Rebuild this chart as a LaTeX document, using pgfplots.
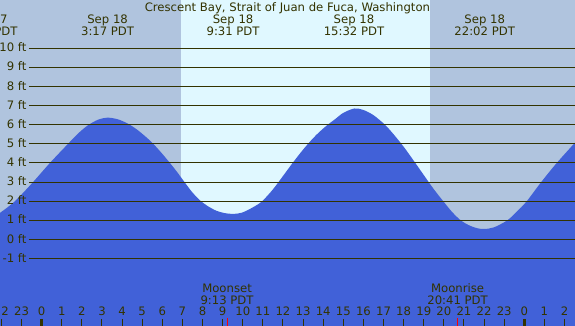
\documentclass[border=0pt]{standalone}
\usepackage{fontspec}
\setmainfont{DejaVu Sans}
\usepackage{pgfplots}
\pgfplotsset{compat=1.18}
\definecolor{night}{RGB}{176,196,222}
\definecolor{day}{RGB}{224,248,255}
\definecolor{tide}{RGB}{65,97,216}
\definecolor{ln}{RGB}{51,51,0}
\begin{document}
\begin{tikzpicture}[every node/.style={font=\fontsize{11.7}{12}\selectfont, text=ln, inner sep=0pt}]
\begin{axis}[name=ax, scale only axis, width=575bp, height=326bp,
  xmin=-2.07, xmax=26.52, ymin=-4.52, ymax=12.52, axis lines=none, clip=true]
\fill[night] (axis cs:-3,-5) rectangle (axis cs:27,13);
\fill[day] (axis cs:6.927,-5) rectangle (axis cs:19.31,13);
\addplot[draw=none, fill=tide, smooth] coordinates {
(-2.2,1.28) (-2.07,1.39) (-1.33,2.0) (-0.43,3.0) (0.41,4.0) (1.31,5.0) (1.8,5.53)
(2.3,5.97) (2.8,6.26) (3.28,6.37) (3.8,6.28) (4.3,6.05) (4.8,5.7) (5.4,5.16)
(5.9,4.6) (6.38,4.0) (6.72,3.55) (7.05,3.08) (7.45,2.52) (7.87,2.05) (8.3,1.72)
(8.7,1.5) (9.1,1.38) (9.52,1.34) (9.95,1.4) (10.5,1.68) (10.96,2.0) (11.5,2.62)
(12.0,3.32) (12.5,4.03) (13.0,4.7) (13.5,5.3) (13.85,5.66) (14.2,5.98) (14.6,6.3)
(15.0,6.62) (15.55,6.85) (16.0,6.77) (16.5,6.5) (17.07,6.0) (17.5,5.5) (18.0,4.85)
(18.5,4.12) (19.0,3.37) (19.5,2.63) (19.97,2.0) (20.4,1.45) (20.84,1.0) (21.3,0.72)
(21.7,0.58) (22.03,0.55) (22.5,0.64) (23.15,1.0) (23.6,1.43) (24.12,2.0) (24.8,2.95)
(25.57,3.95) (26.42,4.95) (26.6,5.17)
} |- (axis cs:-2.2,-5) -- cycle;
\pgfplotsinvokeforeach{-1,...,10}{
  \draw[ln, line width=1bp] (axis cs:-0.63,#1) -- (axis cs:27,#1);
  \node[anchor=base east] at (axis cs:-0.746,#1) [yshift=-3.6bp] {#1 ft};
}
% top labels
\node[anchor=base] at (axis cs:12.22,11.91) {Crescent Bay, Strait of Juan de Fuca, Washington};
\node[anchor=base] at (axis cs:-2.70,11.27) {Sep 17};
\node[anchor=base] at (axis cs:-2.70,10.64) {21:18 PDT};
\node[anchor=base] at (axis cs:3.28,11.27) {Sep 18};
\node[anchor=base] at (axis cs:3.28,10.64) {3:17 PDT};
\node[anchor=base] at (axis cs:9.52,11.27) {Sep 18};
\node[anchor=base] at (axis cs:9.52,10.64) {9:31 PDT};
\node[anchor=base] at (axis cs:15.53,11.27) {Sep 18};
\node[anchor=base] at (axis cs:15.53,10.64) {15:32 PDT};
\node[anchor=base] at (axis cs:22.03,11.27) {Sep 18};
\node[anchor=base] at (axis cs:22.03,10.64) {22:02 PDT};
% moon labels
\node[anchor=base] at (axis cs:9.22,-2.79) {Moonset};
\node[anchor=base] at (axis cs:9.22,-3.42) {9:13 PDT};
\node[anchor=base] at (axis cs:20.68,-2.79) {Moonrise};
\node[anchor=base] at (axis cs:20.68,-3.42) {20:41 PDT};
% hour ticks
\pgfplotsinvokeforeach{-2,...,26}{
  \draw[ln, line width=1bp] (axis cs:#1,-4.15) -- (axis cs:#1,-4.6);
  \node[anchor=base] at (axis cs:#1,-3.99) {\pgfmathtruncatemacro\hh{mod(#1+24,24)}\hh};
}
\draw[ln, line width=3bp] (axis cs:0,-4.15) -- (axis cs:0,-4.6);
\draw[ln, line width=3bp] (axis cs:24,-4.15) -- (axis cs:24,-4.6);
\draw[red, line width=1bp] (axis cs:9.22,-4.1) -- (axis cs:9.22,-4.6);
\draw[red, line width=1bp] (axis cs:20.68,-4.1) -- (axis cs:20.68,-4.6);
\end{axis}
\pgfresetboundingbox
\path[use as bounding box] (ax.south west) rectangle (ax.north east);
\end{tikzpicture}
\end{document}
